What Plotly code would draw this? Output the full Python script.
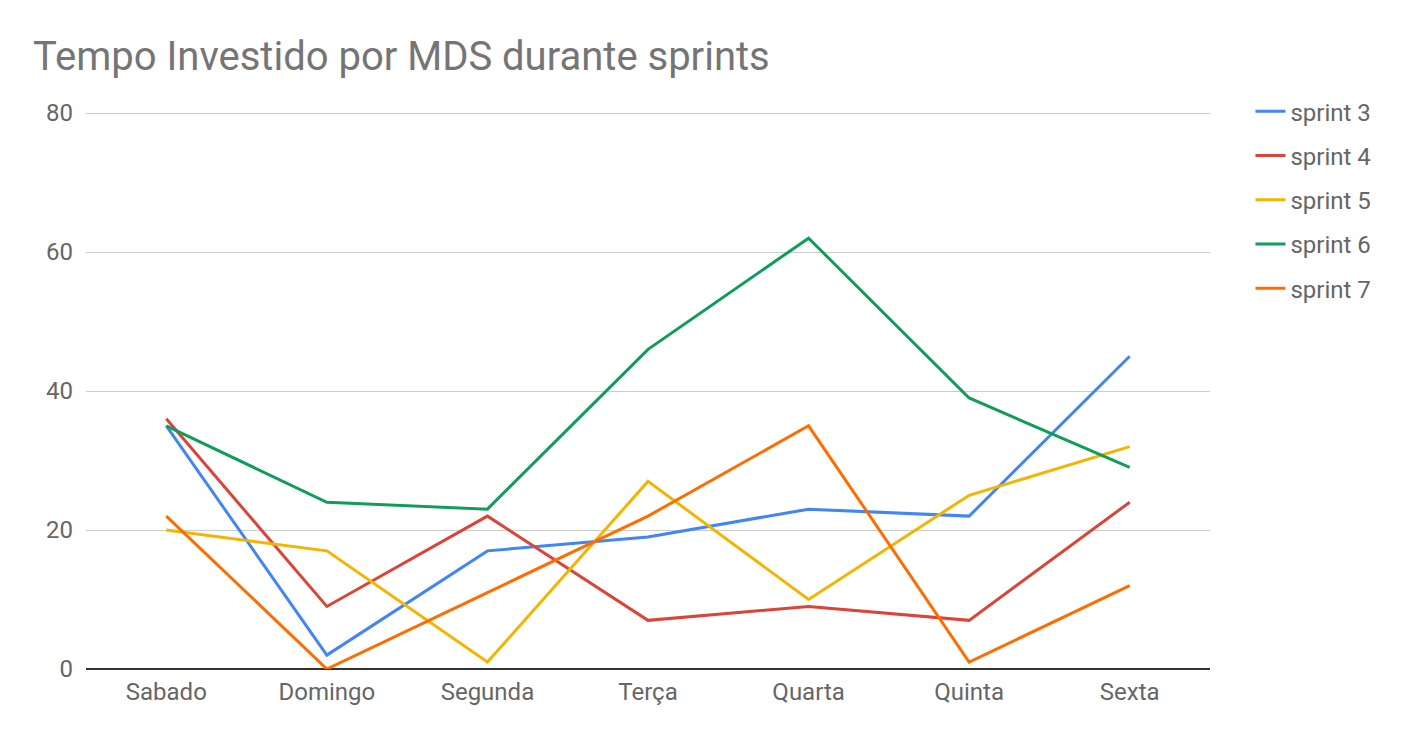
import plotly.graph_objects as go

days = ["Sabado", "Domingo", "Segunda", "Terça", "Quarta", "Quinta", "Sexta"]
sprint3 = [35, 2, 17, 19, 23, 22, 45]
sprint4 = [36, 9, 22, 7, 9, 7, 24]
sprint5 = [20, 17, 1, 27, 10, 25, 32]
sprint6 = [35, 24, 23, 46, 62, 39, 29]
sprint7 = [22, 0, 11, 22, 35, 1, 12]
names = ["sprint 3", "sprint 4", "sprint 5", "sprint 6", "sprint 7"]
colors = ["#4285F4", "#DB4437", "#F4B400", "#0F9D58", "#FF6D01"]
y_ticks = [0, 20, 40, 60, 80]

fig = go.Figure()
for name, vals, col in zip(names, [sprint3, sprint4, sprint5, sprint6, sprint7], colors):
    fig.add_trace(go.Scatter(x=days, y=vals, name=name, mode="lines",
                             line=dict(color=col, width=3), legendgroup=name))

fig.update_layout(
    width=1404, height=738,
    margin=dict(l=86, r=194, t=111, b=69),
    paper_bgcolor="white", plot_bgcolor="white",
    font=dict(family="Roboto", color="#666666", size=24),
    title=dict(text="Tempo Investido por MDS durante sprints",
               font=dict(family="Roboto", size=40, color="#757575"),
               x=33/1404, xref="container", xanchor="left",
               y=1-56/738, yref="container", yanchor="middle"),
    xaxis=dict(type="category", range=[-0.5, 6.5], showgrid=False,
               ticks="", tickfont=dict(size=24, color="#666666"),
               showline=False, zeroline=False),
    yaxis=dict(range=[0, 80.3], tickvals=y_ticks, showgrid=True, gridcolor="#CCCCCC",
               gridwidth=1, zeroline=True, zerolinecolor="#333333", zerolinewidth=2,
               ticks="", ticklen=0, tickfont=dict(size=24, color="#666666"),
               showline=False),
    legend=dict(x=1.036, y=1.039, xanchor="left", yanchor="top",
                font=dict(size=24, color="#666666"), tracegroupgap=10,
                bgcolor="rgba(0,0,0,0)", traceorder="grouped"),
    showlegend=True,
)
fig.update_yaxes(ticklabelstandoff=12)
fig.update_xaxes(ticklabelstandoff=6)

fig.write_html("out.html")
